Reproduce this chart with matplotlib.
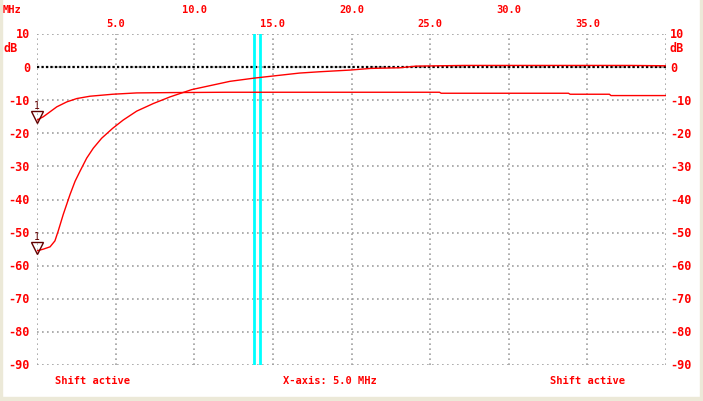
import matplotlib.pyplot as plt
import matplotlib.transforms as mtransforms
from matplotlib.patches import Rectangle

# trace 1 (upper curve), MHz / dB
f_a = [0.0, 0.4, 0.83, 1.26, 1.9, 2.53, 3.37, 4.81, 6.34, 8.5, 12.0, 16.0, 20.0,
       25.6, 25.7, 30.0, 33.8, 33.9, 36.4, 36.5, 40.0]
db_a = [-16.0, -15.0, -13.5, -12.0, -10.5, -9.5, -8.8, -8.2, -7.8, -7.7, -7.6, -7.6, -7.6,
        -7.6, -7.9, -7.9, -7.9, -8.2, -8.2, -8.6, -8.6]

# trace 2 (lower curve)
f_b = [0.0, 0.4, 0.83, 1.14, 1.35, 1.67, 2.1, 2.42, 2.73, 3.16, 3.58, 4.11, 4.81,
       5.48, 6.34, 7.4, 8.46, 9.84, 12.27, 13.86, 14.8, 16.7, 18.0, 19.9, 21.2,
       23.1, 24.1, 27.2, 37.7, 40.0]
db_b = [-55.5, -55.0, -54.3, -52.5, -49.5, -44.5, -38.5, -34.5, -31.5, -27.5, -24.5, -21.5, -18.5,
        -16.0, -13.3, -11.0, -9.0, -6.8, -4.3, -3.3, -2.8, -1.8, -1.4, -0.9, -0.4,
        -0.2, 0.3, 0.5, 0.5, 0.4]

cursors = [13.82, 14.2]
x_ticks = [5, 10, 15, 20, 25, 30, 35]
y_ticks = [10, 0, -10, -20, -30, -40, -50, -60, -70, -80, -90]

RED = "#ff0000"
font = dict(family="DejaVu Sans Mono", fontweight="bold", fontsize=8.5, color=RED)
small = dict(font, fontsize=7.5)

fig = plt.figure(figsize=(7.03, 4.02), dpi=100)
fig.patch.set_facecolor("white")
ax = fig.add_axes([37 / 703, 36 / 402, 629 / 703, 331 / 402])
ax.set_xlim(0, 40)
ax.set_ylim(-90, 10)
for s in ax.spines.values():
    s.set_visible(False)
ax.set_xticks(range(0, 41, 5))
ax.set_yticks(range(-90, 11, 10))
ax.tick_params(length=0, labelbottom=False, labelleft=False)
ax.grid(True, color="#a0a0a0", linestyle=(0, (1, 2)), linewidth=1.2)

ax.axhline(0, color="black", linestyle=(0, (1, 1)), linewidth=1.6, zorder=2)
for c in cursors:
    ax.axvline(c, color="#00ffff", linewidth=2, zorder=3)

ax.plot(f_a, db_a, color=RED, linewidth=1.0, zorder=4)
ax.plot(f_b, db_b, color=RED, linewidth=1.0, zorder=4)

# markers at trace start
for d in [db_a[0], db_b[0]]:
    ax.plot(0, d + 0.8, marker="v", markersize=9, markerfacecolor="none",
            markeredgecolor="#600000", markeredgewidth=1, clip_on=False, zorder=5)
    ax.text(0, d + 4.4, "1", ha="center", va="center", family="DejaVu Sans Mono",
            fontsize=7, color="#600000", clip_on=False)

# labels
tx = mtransforms.blended_transform_factory(ax.transData, fig.transFigure)
for i, t in enumerate(x_ticks):
    ypix = 24 if i % 2 == 0 else 10
    ax.text(t, 1 - ypix / 402, f"{t:.1f}", transform=tx, ha="center", va="center", **small)
fig.text(3 / 703, 1 - 10 / 402, "MHz", ha="left", va="center", **small)

ty = mtransforms.blended_transform_factory(fig.transFigure, ax.transData)
for v in y_ticks:
    ax.text(30 / 703, v, str(v), transform=ty, ha="right", va="center", **font)
    ax.text(670 / 703, v, str(v), transform=ty, ha="left", va="center", **font)
fig.text(3 / 703, 1 - 48 / 402, "dB", ha="left", va="center", **font)
fig.text(670 / 703, 1 - 48 / 402, "dB", ha="left", va="center", **font)

fig.text(55 / 703, 1 - 381 / 402, "Shift active", ha="left", va="center", **small)
fig.text(283 / 703, 1 - 381 / 402, "X-axis: 5.0 MHz", ha="left", va="center", **small)
fig.text(550 / 703, 1 - 381 / 402, "Shift active", ha="left", va="center", **small)

# window border (left, right, bottom)
beige = "#ece9d8"
fig.patches.append(Rectangle((0, 0), 2 / 703, 1, transform=fig.transFigure, color=beige))
fig.patches.append(Rectangle((700 / 703, 0), 3 / 703, 1, transform=fig.transFigure, color=beige))
fig.patches.append(Rectangle((0, 0), 1, 4 / 402, transform=fig.transFigure, color=beige))

fig.savefig("out.png", dpi=100)
